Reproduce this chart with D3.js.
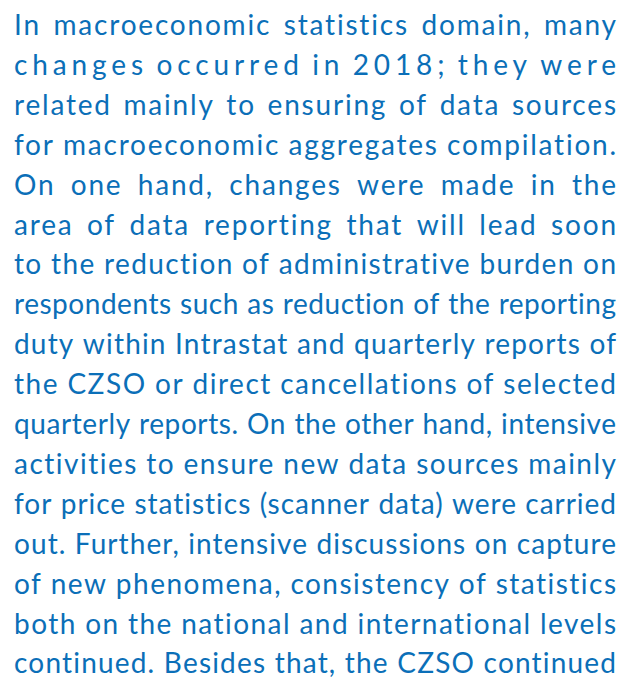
<!DOCTYPE html>
<html>
<head>
<meta charset="utf-8">
<script src="https://cdn.jsdelivr.net/npm/d3@7"></script>
<style>
  html, body { margin: 0; padding: 0; background: #fff; }
  text { font-variant-ligatures: none; font-feature-settings: "liga" 0, "clig" 0; }
</style>
</head>
<body>
<div id="page"></div>
<script>
// lines of the paragraph, as set in the original
const lines = [
  "In macroeconomic statistics domain, many",
  "changes occurred in 2018; they were",
  "related mainly to ensuring of data sources",
  "for macroeconomic aggregates compilation.",
  "On one hand, changes were made in the",
  "area  of data reporting that will lead soon",
  "to the reduction of administrative burden on",
  "respondents such as reduction of the reporting",
  "duty within Intrastat and quarterly reports of",
  "the CZSO or direct cancellations of selected",
  "quarterly reports. On the other hand, intensive",
  "activities to ensure new data sources mainly",
  "for price statistics (scanner data) were carried",
  "out. Further, intensive discussions on capture",
  "of new phenomena, consistency of statistics",
  "both on the national and international levels",
  "continued. Besides that, the CZSO continued"
];
// lines stretched letter by letter with no limit
const letterSpaced = [1];

const width = 621, height = 679;
const left = 14, right = 616, firstBase = 35, lineGap = 39.9;
const fontSize = 28;
const color = "#0b6fb8";
const font = "Lato, 'Noto Sans', sans-serif";

const svg = d3.select("#page").append("svg")
    .attr("width", width)
    .attr("height", height);

const y = d3.scaleLinear()
    .domain([0, lines.length - 1])
    .range([firstBase, firstBase + lineGap * (lines.length - 1)]);

const W = right - left;
const baseGap = fontSize * 0.3;
const maxTrack = 1.8;

lines.forEach((line, i) => {
    const words = line.split(/\s+/);
    const g = svg.append("g");
    const nodes = words.map(w => g.append("text")
        .attr("y", y(i))
        .attr("font-family", font)
        .attr("font-size", fontSize)
        .attr("fill", color)
        .text(w));
    const widths = nodes.map(n => n.node().getComputedTextLength());
    const inner = d3.sum(words, w => w.length - 1);
    const total = d3.sum(widths);
    const nGaps = words.length - 1;

    // extra room goes to letter tracking first, then to word spaces
    let extra = W - total - baseGap * nGaps;
    let track = Math.max(0, extra / (inner + nGaps));
    if (!letterSpaced.includes(i)) track = Math.min(track, maxTrack);
    let scale = 1;
    const stretched = widths.map((w, k) => w + (words[k].length - 1) * track);
    let gap = (W - d3.sum(stretched)) / nGaps;
    if (gap < fontSize * 0.18) {
        gap = fontSize * 0.18;
        scale = (W - gap * nGaps) / d3.sum(stretched);
    }
    let x = left;
    nodes.forEach((n, k) => {
        const w = stretched[k] * scale;
        n.attr("x", x);
        if (track > 0 && words[k].length > 1) {
            n.attr("textLength", w).attr("lengthAdjust", scale < 1 ? "spacingAndGlyphs" : "spacing");
        } else if (scale < 1) {
            n.attr("textLength", w).attr("lengthAdjust", "spacingAndGlyphs");
        }
        x += w + gap;
    });
});
</script>
</body>
</html>
